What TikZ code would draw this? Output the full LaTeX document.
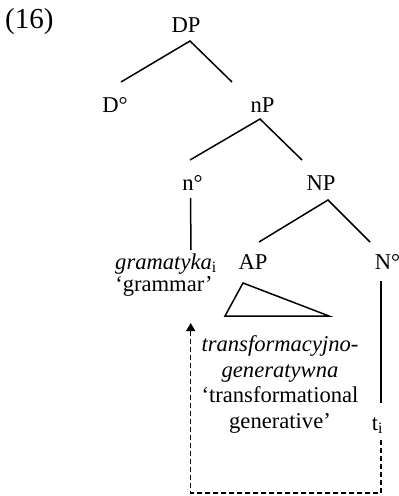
\documentclass[tikz,border=0pt]{standalone}
\usepackage{fontspec}
\setmainfont{Liberation Serif}
\usetikzlibrary{arrows.meta}
\begin{document}
\begin{tikzpicture}[x=1pt,y=-1pt,
  lab/.style={anchor=base,inner sep=0pt,font=\fontsize{22.6}{25.5}\selectfont},
  edge/.style={line width=1.5pt},
  move/.style={line width=1.3pt,dash pattern=on 5pt off 3pt,-{Triangle[length=8pt,width=9pt]}}]
\useasboundingbox (0,0) rectangle (399,496);
\node[anchor=base west,inner sep=0pt,font=\fontsize{29}{30}\selectfont] (ex) at (5,28.5) {(16)};
\node[lab] (DP) at (186,32) {DP};
\node[lab] (D) at (115,112) {D°};
\node[lab] (nP) at (262.5,112) {nP};
\node[lab] (n) at (192.5,190) {n°};
\node[lab] (NP) at (321,190) {NP};
\node[lab] (gr) at (166,269) {\textit{gramatyka}\textsubscript{i}};
\node[lab] (gl) at (164,291) {‘grammar’};
\node[lab] (AP) at (253,269) {AP};
\node[lab] (N) at (387.5,269) {N°};
\node[lab,align=center] (adj) at (280,428) {\textit{transformacyjno-}\\\textit{generatywna}\\‘transformational\\generative’};
\node[lab] (t) at (377.5,430) {t\textsubscript{i}};
% branches
\draw[edge] ([shift={(6,-30)}]D.base) -- ([shift={(4,9)}]DP.base) -- ([shift={(-30.5,-30)}]nP.base);
\draw[edge] ([shift={(-2.5,-30)}]n.base) -- ([shift={(-2.5,7)}]nP.base) -- ([shift={(-19,-30)}]NP.base);
\draw[edge] ([shift={(-2,8)}]n.base) -- ([shift={(25,-19)}]gr.base);
\draw[edge] ([shift={(6,-27)}]AP.base) -- ([shift={(7,10)}]NP.base) -- ([shift={(-17.5,-27)}]N.base);
\draw[edge] ([shift={(-6.5,12)}]N.base) -- ([shift={(3.5,-27)}]t.base);
\draw[edge,line join=miter] ([shift={(-10,14)}]AP.base) -- ([shift={(-28,47)}]AP.base) -- ([shift={(76,47)}]AP.base) -- cycle;
% movement
\draw[move] ([shift={(3.5,10)}]t.base) -- ++(0,53) -| ([shift={(26.7,32)}]gl.base);
\end{tikzpicture}
\end{document}
